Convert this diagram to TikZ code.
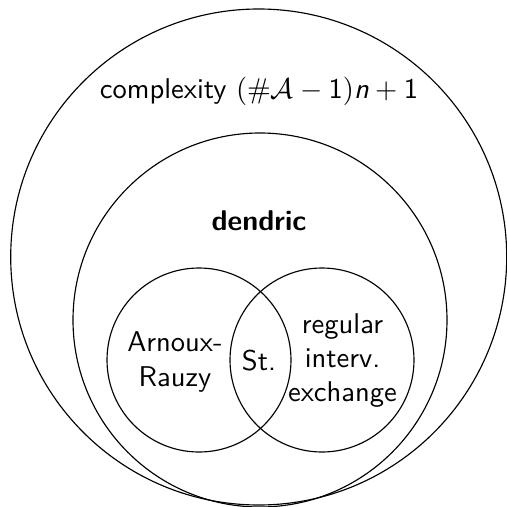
\documentclass[tikz,border=0pt]{standalone}
\begin{document}
\begin{tikzpicture}[x=0.35pt,y=-0.35pt,font=\sffamily,
  ring/.style={circle,draw,line width=0.4pt,inner sep=0pt},
  lbl/.style={align=center,inner sep=0pt}]
\useasboundingbox (0,0) rectangle (507,507);
\node[ring,minimum size=173.6pt] (outer) at (258.7,257) {};
\node[ring,minimum size=130.9pt] (dendricset) at (260,320) {};
\node[ring,minimum size=64.4pt] (ar) at (199,360) {};
\node[ring,minimum size=64.4pt] (iet) at (322,360) {};
\node[anchor=base,inner sep=0pt] (cplx) at (259,98) {complexity $(\#\mathcal{A}-\mathsf{1})\textsf{\itshape n}+\mathsf{1}$};
\node[anchor=base,inner sep=0pt,font=\sffamily\bfseries] (dend) at (259,230) {dendric};
\node[lbl] (arl) at (175,362) {Arnoux-\\Rauzy};
\node[lbl] (st) at (259,361) {St.};
\node[lbl] (ietl) at (342.5,360.5) {regular\\interv.\\exchange};
\end{tikzpicture}
\end{document}
